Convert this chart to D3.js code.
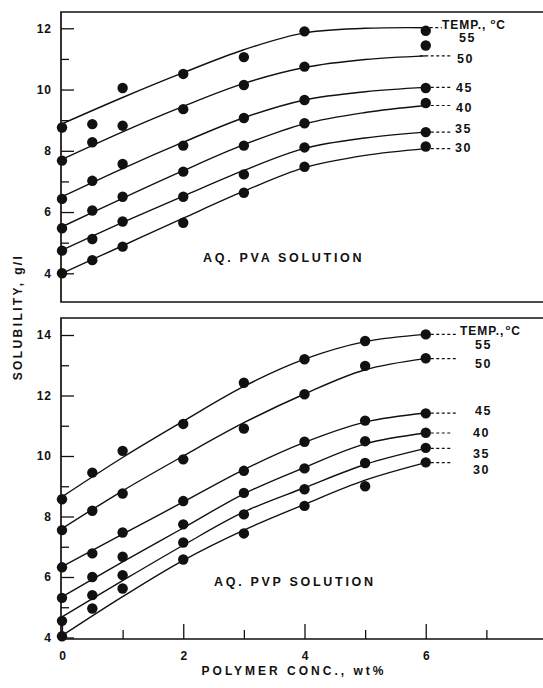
<!DOCTYPE html>
<html>
<head>
<meta charset="utf-8">
<script src="https://cdn.jsdelivr.net/npm/d3@7"></script>
<style>
  body { margin: 0; background: #fff; }
  svg { display: block; font-family: "Liberation Sans", Arial, sans-serif; font-weight: bold; fill: #111; }
</style>
</head>
<body>
<svg id="chart" width="543" height="688"></svg>
<script>
// values
const temps = [55, 50, 45, 40, 35, 30];
const pvaConc = [0, 0.5, 1, 2, 3, 4, 6];
const pvpConc = [0, 0.5, 1, 2, 3, 4, 5, 6];
const fitConc = [0, 1, 2, 3, 4, 5, 6];

// measured points, one row per temperature (55 .. 30)
const pvaPoints = [
  [8.76, 8.87, 10.05, 10.51, 11.06, 11.90, 11.92],
  [7.68, 8.28, 8.82, 9.36, 10.15, 10.75, 11.44],
  [6.43, 7.02, 7.57, 8.17, 9.07, 9.66, 10.05],
  [5.47, 6.05, 6.50, 7.32, 8.17, 8.90, 9.56],
  [4.74, 5.12, 5.69, 6.50, 7.23, 8.11, 8.61],
  [4.00, 4.43, 4.87, 5.65, 6.63, 7.48, 8.14]
];
// smooth curves drawn through them
const pvaFits = [
  [8.88, 9.74, 10.55, 11.30, 11.85, 12.00, 12.02],
  [7.72, 8.62, 9.45, 10.20, 10.72, 10.98, 11.10],
  [6.50, 7.42, 8.28, 9.08, 9.66, 9.93, 10.07],
  [5.52, 6.45, 7.35, 8.20, 8.88, 9.25, 9.48],
  [4.76, 5.66, 6.52, 7.36, 8.08, 8.42, 8.61],
  [4.00, 4.90, 5.80, 6.68, 7.45, 7.85, 8.07]
];

const pvpPoints = [
  [8.57, 9.45, 10.17, 11.06, 12.42, 13.20, 13.80, 14.02],
  [7.55, 8.19, 8.76, 9.89, 10.91, 12.04, 12.98, 13.23],
  [6.32, 6.78, 7.47, 8.51, 9.51, 10.47, 11.17, 11.41],
  [5.31, 6.00, 6.67, 7.74, 8.78, 9.59, 10.49, 10.77],
  [4.55, 5.40, 6.06, 7.14, 8.07, 8.90, 9.77, 10.27],
  [4.04, 4.96, 5.62, 6.58, 7.44, 8.35, 9.00, 9.79]
];
const pvpFits = [
  [8.65, 9.95, 11.15, 12.30, 13.20, 13.78, 14.02],
  [7.60, 8.85, 10.00, 11.10, 12.05, 12.85, 13.22],
  [6.34, 7.42, 8.48, 9.55, 10.45, 11.12, 11.42],
  [5.34, 6.50, 7.62, 8.75, 9.62, 10.40, 10.76],
  [4.68, 5.88, 7.05, 8.15, 8.95, 9.72, 10.25],
  [4.06, 5.35, 6.55, 7.55, 8.40, 9.20, 9.78]
];

const pvaTicks = [4, 6, 8, 10, 12];
const pvpTicks = [4, 6, 8, 10, 12, 14];
const xTicks = [0, 2, 4, 6, 8];

const W = 543;
const axisLeftX = 61;
const svg = d3.select("#chart");
const x = d3.scaleLinear().domain([0, 8]).range([62, 547]);

function drawPanel(p) {
  const y = d3.scaleLinear().domain(p.domain).range(p.range);
  const g = svg.append("g");

  // frame: top, left, bottom
  g.append("path")
    .attr("d", `M${W},${p.top}H${axisLeftX}V${p.bottom}H${W}`)
    .attr("fill", "none").attr("stroke", "#111").attr("stroke-width", 1.7);

  // y ticks point inward
  const yAx = g.append("g").attr("transform", `translate(${axisLeftX},0)`)
    .call(d3.axisLeft(y).tickValues(p.ticks).tickSize(-13).tickPadding(9).tickFormat(d3.format("d")));
  yAx.select(".domain").remove();
  yAx.selectAll("line").attr("stroke", "#111").attr("stroke-width", 1.3);
  yAx.selectAll("text").attr("font-size", 12).attr("font-family", null).attr("letter-spacing", 1).attr("fill", "#111");

  const minor = d3.range(p.domain[0] + 1, p.domain[1], 2);
  const yMin = g.append("g").attr("transform", `translate(${axisLeftX},0)`)
    .call(d3.axisLeft(y).tickValues(minor).tickSize(-8).tickFormat(""));
  yMin.select(".domain").remove();
  yMin.selectAll("line").attr("stroke", "#111").attr("stroke-width", 1.3);

  // fitted curves
  const line = d3.line()
    .x((d, i) => x(fitConc[i]))
    .y(d => y(d))
    .curve(d3.curveCatmullRom.alpha(0.5));
  g.selectAll(".fit").data(p.fits).join("path")
    .attr("class", "fit")
    .attr("d", line)
    .attr("fill", "none").attr("stroke", "#111").attr("stroke-width", 1.4);

  // dashed leaders to the temperature labels
  g.selectAll(".lead").data(p.fits).join("line")
    .attr("class", "lead")
    .attr("x1", (d, i) => x(6) + p.leadStart[i])
    .attr("x2", (d, i) => x(6) + p.leadEnd[i])
    .attr("y1", d => y(d[d.length - 1]))
    .attr("y2", d => y(d[d.length - 1]))
    .attr("stroke", "#111").attr("stroke-width", 1.2)
    .attr("stroke-dasharray", "3,2.5");

  // data points
  p.points.forEach(row => {
    g.selectAll(null).data(row).join("circle")
      .attr("cx", (d, i) => x(p.conc[i]))
      .attr("cy", d => y(d))
      .attr("r", 5.2)
      .attr("fill", "#111");
  });

  // labels
  const head = g.append("text")
    .attr("x", p.headX).attr("y", p.headY)
    .attr("font-size", 12).attr("letter-spacing", 1);
  head.append("tspan").text("TEMP.,");
  head.append("tspan").attr("font-size", 8).attr("dy", -5).attr("dx", p.degDx).text("o");
  head.append("tspan").attr("dy", 5).text("C");

  g.selectAll(".tlab").data(temps).join("text")
    .attr("class", "tlab")
    .attr("x", (d, i) => p.labX[i])
    .attr("y", (d, i) => p.labY[i])
    .attr("font-size", 12.5).attr("letter-spacing", 1.5)
    .text(d => d);

  g.append("text")
    .attr("x", p.nameX).attr("y", p.nameY)
    .attr("font-size", 12.5).attr("letter-spacing", 2.7)
    .text(p.name);

  return y;
}

drawPanel({
  name: "AQ. PVA SOLUTION",
  domain: [4, 12], range: [273.3, 28.3], top: 12, bottom: 302,
  ticks: pvaTicks, conc: pvaConc, points: pvaPoints, fits: pvaFits,
  leadStart: [4, -6, 5, 5, 5, 5], leadEnd: [16, 26, 27, 27, 27, 27],
  headX: 442, headY: 29, degDx: 4,
  labX: [459, 457, 456, 456, 455, 455],
  labY: [42, 63, 92, 112, 133, 152],
  nameX: 203, nameY: 262
});

drawPanel({
  name: "AQ. PVP SOLUTION",
  domain: [4, 14], range: [637.5, 335], top: 318, bottom: 639,
  ticks: pvpTicks, conc: pvpConc, points: pvpPoints, fits: pvpFits,
  leadStart: [5, 5, 5, 5, 5, 5], leadEnd: [30, 30, 30, 27, 27, 27],
  headX: 460, headY: 335, degDx: 1,
  labX: [475, 475, 475, 473, 473, 473],
  labY: [349, 368, 415, 437, 458, 474],
  nameX: 214, nameY: 586
});

// x axis on the lower panel only, ticks pointing up
const xAx = svg.append("g").attr("transform", "translate(0,639)")
  .call(d3.axisBottom(x).tickValues(xTicks).tickSize(-15).tickPadding(12).tickFormat(d3.format("d")));
xAx.select(".domain").remove();
xAx.selectAll("line").attr("stroke", "#111").attr("stroke-width", 1.3);
xAx.selectAll("text").attr("font-size", 12).attr("font-family", null).attr("fill", "#111");

const xMin = svg.append("g").attr("transform", "translate(0,639)")
  .call(d3.axisBottom(x).tickValues([1, 3, 5, 7]).tickSize(-9).tickFormat(""));
xMin.select(".domain").remove();
xMin.selectAll("line").attr("stroke", "#111").attr("stroke-width", 1.3);

// axis titles
svg.append("text")
  .attr("transform", "translate(22,317) rotate(-90)")
  .attr("text-anchor", "middle")
  .attr("font-size", 12).attr("letter-spacing", 2.4)
  .text("SOLUBILITY, g/l");

svg.append("text")
  .attr("x", 294).attr("y", 675)
  .attr("text-anchor", "middle")
  .attr("font-size", 12).attr("letter-spacing", 3)
  .text("POLYMER CONC., wt%");
</script>
</body>
</html>
